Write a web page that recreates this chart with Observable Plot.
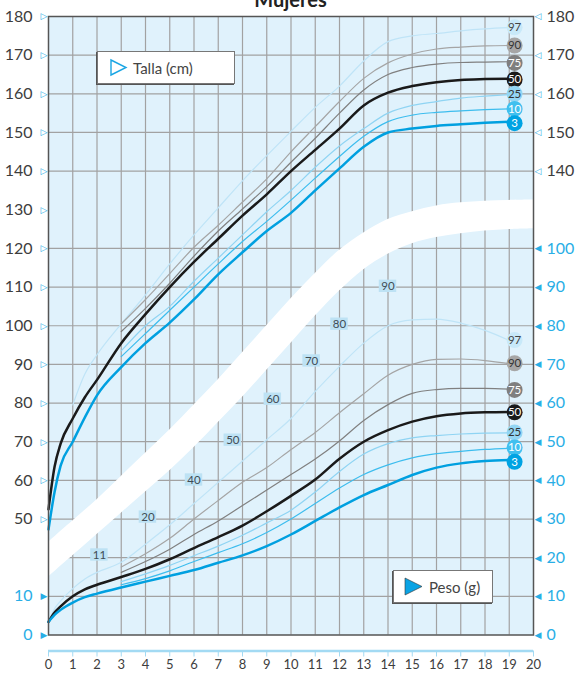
<!DOCTYPE html>
<html><head><meta charset="utf-8">
<script src="https://cdn.jsdelivr.net/npm/d3@7"></script>
<script src="https://cdn.jsdelivr.net/npm/@observablehq/plot@0.6"></script>
<style>
body{margin:0;background:#fff;}
#wrap{position:relative;width:576px;height:676px;overflow:hidden;font-family:Lato,"Open Sans",sans-serif;}
#chart{position:absolute;left:0;top:0;}
#title{position:absolute;top:-11px;left:48px;width:485px;text-align:center;font-weight:bold;font-size:20px;line-height:20px;color:#222;}
.leg{position:absolute;background:#fff;border:1px solid #777;box-shadow:-1px 1px 0 #555;display:flex;align-items:center;font-size:15px;color:#444;box-sizing:border-box;}
</style></head>
<body>
<div id="wrap">
<div id="chart"></div>
<div id="title">Mujeres</div>
<div class="leg" style="left:97px;top:51px;width:138px;height:33px;"><svg width="35" height="31"><polygon points="13,8 28,15.5 13,23" fill="none" stroke="#1aa6e4" stroke-width="1.4"/></svg>Talla (cm)</div>
<div class="leg" style="left:393px;top:570px;width:100px;height:33px;"><svg width="35" height="31"><polygon points="11,7 28,15.5 11,24" fill="#0aa3e4" stroke="#333" stroke-width="0.6"/></svg>Peso (g)</div>
</div>
<script>
// ---- data ----
const edades = [0,0.25,0.5,1,1.5,2,3,4,5,6,7,8,9,10,11,12,13,14,15,16,17,18,19];
const percentiles = ["97","90","75","50","25","10","3"];

// Talla (cm)
const tallaP97 = [null,null,null,79.5,87.5,92.5,100.5,108,116,123.5,130.5,137.5,144,150.3,156.5,162,168.5,173.5,175,175.6,176.3,176.8,177.1];
const tallaP90 = [null,null,null,null,null,null,100.5,106.8,113.5,120.3,126,132,138,145,151.5,158,164,168,170.3,171.6,172.1,172.4,172.5];
const tallaP75 = [null,null,null,null,null,null,98.5,104.5,111,118,124.5,130.2,136,142.3,148.5,155,161,165,166.8,167.7,168.1,168.2,168.3];
const tallaP50 = [52.5,63.5,69.5,76,81.5,86,95.5,103,110,116.5,122.5,128.5,134,140,145.5,151,157,160.3,162,163,163.6,163.8,163.9];
const tallaP25 = [null,null,null,null,null,null,93.5,100,105,111.5,117.5,123.5,129.5,135,141,146.5,151,155,157,158,158.9,159.4,159.8];
const tallaP10 = [null,null,null,null,null,null,92,98,104,110,116,121.8,127,132.5,138.2,143.8,149,152.8,154.5,155.2,155.6,155.9,156.1];
const tallaP3  = [47.3,57,63.8,70,76.3,82,89.3,95.5,100.8,106.8,113.3,119,124.5,129.2,135,140.7,146.3,150,151,151.7,152.1,152.5,152.8];

// Peso (kg)
const pesoP97 = [3.5,6.8,8.8,12,14.5,16.2,18.8,23.5,28.5,34,39.5,45,50.5,56,63,69.5,75.5,80,81.5,81.7,80.7,78.8,76.2];
const pesoP90 = [null,null,null,null,null,null,17.6,21,25,30,34.8,39.5,43.3,48,52.4,57.5,62.4,67.2,70,71.3,71.4,71,70.2];
const pesoP75 = [null,null,null,null,null,null,16.2,19,22.2,26,29.5,33.5,37.5,41.5,45.5,50.2,55.5,59.6,62.5,63.5,63.8,63.8,63.6];
const pesoP50 = [3.4,5.8,7.4,10,11.8,13,15,17.1,19.6,22.5,25.3,28.3,32,36,40.2,45.6,50,53,55.2,56.6,57.3,57.6,57.7];
const pesoP25 = [null,null,null,null,null,null,13.8,15.8,18,20.5,23,25.8,29,32.3,37,42.3,46.8,49.5,51,51.6,52,52.2,52.3];
const pesoP10 = [null,null,null,null,null,null,13,14.6,16.6,19,21.3,23.6,26.5,30,34,38,41.5,44,45.8,46.9,47.5,48,48.3];
const pesoP3  = [3.4,5.2,6.5,8.4,9.8,10.7,12.3,13.8,15.3,16.8,18.7,20.6,23,26,29.5,33,36.2,38.8,41.4,43.3,44.4,45,45.3];

// percentile label positions at the right end
const etiquetaEdad = 19.22;
const tallaEtiqueta = [177.2,172.5,168.0,163.7,160,156.1,152.4];
const pesoEtiqueta = [76.3,70.3,63.4,57.6,52.4,48.5,44.8];

// white separating band (in talla units)
const bandaEdad = [0,1,2,3,4,5,6,7,8,9,10,11,12,13,14,15,16,17,18,19,20];
const bandaInf = [35,40.5,46,51.5,57,62.5,68.5,75,81.5,88.5,95.5,102.5,109,114.5,118.5,121.2,122.8,123.8,124.5,124.9,125.1];
const bandaSup = [44,49.5,55,61,67,73,79.5,86,93,100,107,113.5,119.5,124,127.5,129.5,131,131.8,132.2,132.4,132.5];

// small labels along the band
const marcaTexto = ["11","20","40","50","60","70","80","90"];
const marcaEdad = [2.1,4.1,6.0,7.6,9.25,10.85,12.0,14.0];
const marcaY = [40.7,50.5,60.1,70.4,81,90.9,100.4,110.2];

// axes
const ejeX = [0,1,2,3,4,5,6,7,8,9,10,11,12,13,14,15,16,17,18,19,20];
const tallaIzq = [180,170,160,150,140,130,120,110,100,90,80,70,60,50];
const pesoIzq = [10,0];
const tallaDer = [180,170,160,150,140];
const pesoDer = [100,90,80,70,60,50,40,30,20,10,0];
const rejillaY = [30,40,50,60,70,80,90,100,110,120,140,150,160,170];
const rejillaX = [1,2,3,4,5,6,7,8,9,10,11,12,13,14,15,16,17,18,19];
const PESO_OFFSET = 20; // weight 0 sits at talla 20

// ---- styles ----
const colorLinea = ["#bfe4f7","#a5a5a5","#808080","#1a1a1a","#8fd4f3","#3dbdee","#00a0e0"];
const anchoLinea = [1.2,1.2,1.2,2.5,1.2,1.2,2.5];
const colorCirculo = ["#c8e9f9","#a6a6a6","#7f7f7f","#1a1a1a","#93d6f4","#40c0ef","#00a3e3"];
const colorTextoCirculo = ["#444","#333","#fff","#fff","#333","#fff","#fff"];
const azul = "#29aee6";
const gris = "#3d3d3d";

const tallas = [tallaP97,tallaP90,tallaP75,tallaP50,tallaP25,tallaP10,tallaP3];
const pesos = [pesoP97,pesoP90,pesoP75,pesoP50,pesoP25,pesoP10,pesoP3];

function filas(valores, offset){
  return edades.map((e,i)=>({edad:e, v: valores[i]==null ? NaN : valores[i]+offset}));
}
const orden = [0,1,2,4,5,3,6];
const lineas = [];
for (const i of orden){
  lineas.push(Plot.line(filas(tallas[i],0), {x:"edad", y:"v", stroke:colorLinea[i], strokeWidth:anchoLinea[i], curve:"monotone-x"}));
  lineas.push(Plot.line(filas(pesos[i],PESO_OFFSET), {x:"edad", y:"v", stroke:colorLinea[i], strokeWidth:anchoLinea[i], curve:"monotone-x"}));
}
const banda = bandaEdad.map((e,i)=>({edad:e, inf:bandaInf[i], sup:bandaSup[i]}));
const marcas = marcaTexto.map((t,i)=>({t, edad:marcaEdad[i], y:marcaY[i]}));
const circulos = percentiles.flatMap((p,i)=>[
  {p, y:tallaEtiqueta[i], fill:colorCirculo[i], tc:colorTextoCirculo[i]},
  {p, y:pesoEtiqueta[i]+PESO_OFFSET, fill:colorCirculo[i], tc:colorTextoCirculo[i]}
]);

const chart = Plot.plot({
  width:576, height:676,
  marginLeft:48, marginRight:43, marginTop:16, marginBottom:41.5,
  x:{domain:[0,20], axis:null, label:null},
  y:{domain:[20,180], axis:null, label:null},
  style:{fontFamily:"Lato, 'Open Sans', sans-serif", background:"transparent", overflow:"visible"},
  marks:[
    Plot.frame({fill:"#e0f2fc", stroke:null}),
    Plot.ruleX(rejillaX, {x:d=>d, stroke:"#a2a2a2", strokeWidth:1.2}),
    Plot.ruleY(rejillaY, {y:d=>d, stroke:"#a2a2a2", strokeWidth:1.2}),
    Plot.areaY(banda, {x:"edad", y1:"inf", y2:"sup", fill:"white", curve:"catmull-rom"}),
    Plot.rect(marcas, {x1:d=>d.edad-0.36, x2:d=>d.edad+0.36, y1:d=>d.y-1.6, y2:d=>d.y+1.6, fill:"#bde2f4"}),
    Plot.text(marcas, {x:"edad", y:"y", text:"t", fill:"#3f4c55", fontSize:11.5}),
    ...lineas,
    Plot.dot(circulos, {x:()=>etiquetaEdad, y:"y", r:8, fill:d=>d.fill, stroke:null}),
    Plot.text(circulos, {x:()=>etiquetaEdad, y:"y", text:"p", fill:d=>d.tc, fontSize:11.5}),
    Plot.frame({stroke:"#555", strokeWidth:1.5}),
    // left axis
    Plot.text(tallaIzq, {y:d=>d, frameAnchor:"left", dx:-16, textAnchor:"end", fill:gris, fontSize:16}),
    Plot.text(tallaIzq, {y:d=>d, frameAnchor:"left", dx:-8, text:()=>"▷", fill:azul, fontSize:9, fontFamily:"DejaVu Sans"}),
    Plot.text(pesoIzq, {y:d=>d+PESO_OFFSET, frameAnchor:"left", dx:-16, textAnchor:"end", fill:azul, fontSize:16}),
    Plot.text(pesoIzq, {y:d=>d+PESO_OFFSET, frameAnchor:"left", dx:-8, text:()=>"▶", fill:azul, fontSize:9, fontFamily:"DejaVu Sans"}),
    // right axis
    Plot.text(tallaDer, {y:d=>d, frameAnchor:"right", dx:13, textAnchor:"start", fill:gris, fontSize:16}),
    Plot.text(tallaDer, {y:d=>d, frameAnchor:"right", dx:8, text:()=>"◁", fill:azul, fontSize:9, fontFamily:"DejaVu Sans"}),
    Plot.text(pesoDer, {y:d=>d+PESO_OFFSET, frameAnchor:"right", dx:13, textAnchor:"start", fill:azul, fontSize:16}),
    Plot.text(pesoDer, {y:d=>d+PESO_OFFSET, frameAnchor:"right", dx:8, text:()=>"◀", fill:azul, fontSize:9, fontFamily:"DejaVu Sans"}),
    // bottom axis
    Plot.ruleY([PESO_OFFSET], {y:d=>d, dy:16, stroke:"#a3daf3", strokeWidth:2.5}),
    Plot.axisX(ejeX, {anchor:"bottom", dy:16, tickSize:6, tickPadding:3, stroke:"#a3daf3", color:gris, fontSize:13, label:null})
  ]
});
document.getElementById("chart").appendChild(chart);
</script>
</body></html>
